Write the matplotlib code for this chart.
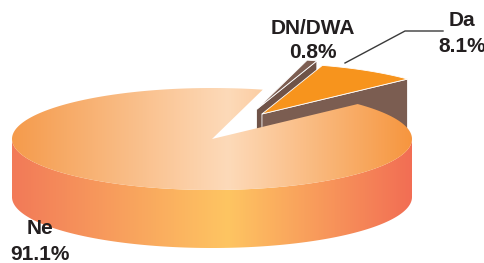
import numpy as np
import matplotlib
matplotlib.use("Agg")
import matplotlib.pyplot as plt
from matplotlib.patches import Polygon
from matplotlib.colors import LinearSegmentedColormap

# ---- data ----
labels = ["Ne", "Da", "DN/DWA"]
values = [91.1, 8.1, 0.8]
pct_labels = ["91.1%", "8.1%", "0.8%"]

# ---- geometry / style (pixels) ----
W, H = 485, 263
cx, cy, rx, ry, depth = 212.0, 139.0, 200.0, 51.0, 58.0
start_angle = 75.3
# explode offsets (direction deg, fraction of radius)
explode = [(0, 0.0), (63, 0.55), (69, 0.62)]
top_cols = [None, "#F7941D", "#7D5E52"]
side_cols = [None, "#7B5D51", "#6F5348"]
text_col = "#231F20"

plt.rcParams["font.family"] = ["Liberation Sans", "DejaVu Sans"]
fig = plt.figure(figsize=(W / 100, H / 100), dpi=100)
ax = fig.add_axes([0, 0, 1, 1])

total = sum(values)
spans = [v / total * 360.0 for v in values]
starts = [start_angle + sum(spans[:i]) for i in range(len(spans))]


def offset(i):
    d, m = explode[i]
    return m * rx * np.cos(np.radians(d)), -m * ry * np.sin(np.radians(d))


def arc(t1, t2, ox, oy, z, n=200):
    a = np.radians(np.linspace(t1, t2, n))
    return np.column_stack([cx + ox + rx * np.cos(a), cy + oy - ry * np.sin(a) + z])


def grad_fill(verts, stops, zorder):
    patch = Polygon(verts, closed=True, facecolor="none", edgecolor="none",
                    transform=ax.transData, zorder=zorder)
    ax.add_patch(patch)
    cmap = LinearSegmentedColormap.from_list("g", stops)
    g = np.linspace(0, 1, 600).reshape(1, -1)
    im = ax.imshow(g, cmap=cmap, extent=(cx - rx, cx + rx, H, 0), aspect="auto",
                   interpolation="bilinear", zorder=zorder)
    im.set_clip_path(patch)


# ---- small exploded slices (back), drawn first: DN then Da ----
for i in [2, 1]:
    ox, oy = offset(i)
    t1, t2 = starts[i] % 360, (starts[i] % 360) + spans[i]
    apex = np.array([cx + ox, cy + oy])
    r1 = arc(t1, t1, ox, oy, 0, 2)[0]
    # visible cut face at start angle
    face = np.array([apex, r1, r1 + [0, depth], apex + [0, depth]])
    ax.add_patch(Polygon(face, closed=True, facecolor=side_cols[i],
                         edgecolor="white", linewidth=0.6, zorder=2))
    top = np.vstack([apex, arc(t1, t2, ox, oy, 0), apex])
    ax.add_patch(Polygon(top, closed=True, facecolor=top_cols[i],
                         edgecolor="white", linewidth=0.6, zorder=3))

# ---- big slice Ne ----
t1, t2 = starts[0], starts[0] + spans[0]
wall_top = arc(180, 360, 0, 0, 0)
wall_bot = arc(360, 180, 0, 0, depth)
grad_fill(np.vstack([wall_top, wall_bot]),
          [(0, "#F27A58"), (0.54, "#FEC562"), (1, "#F26E54")], 5)
top = np.vstack([[cx, cy], arc(t1, t2, 0, 0, 0, 600), [cx, cy]])
grad_fill(top, [(0, "#F59B4C"), (0.54, "#FDDAB9"), (1, "#F6963F")], 6)

# ---- labels ----
fs = 15
name_pos = [(40, 229), (462, 21), (313, 28)]
pct_pos = [(40, 254), (462, 47), (313, 52)]
for i in range(len(labels)):
    ax.text(*name_pos[i], labels[i], ha="center", va="center", fontsize=fs,
            fontweight="bold", color=text_col, zorder=10)
    ax.text(*pct_pos[i], pct_labels[i], ha="center", va="center", fontsize=fs,
            fontweight="bold", color=text_col, zorder=10)

# leader line for Da
ax.plot([345, 405, 443], [63, 31, 31], color="#3A3A3A", linewidth=1.0, zorder=9)

ax.set_xlim(0, W)
ax.set_ylim(H, 0)
ax.axis("off")
fig.savefig("out.png", dpi=100)
